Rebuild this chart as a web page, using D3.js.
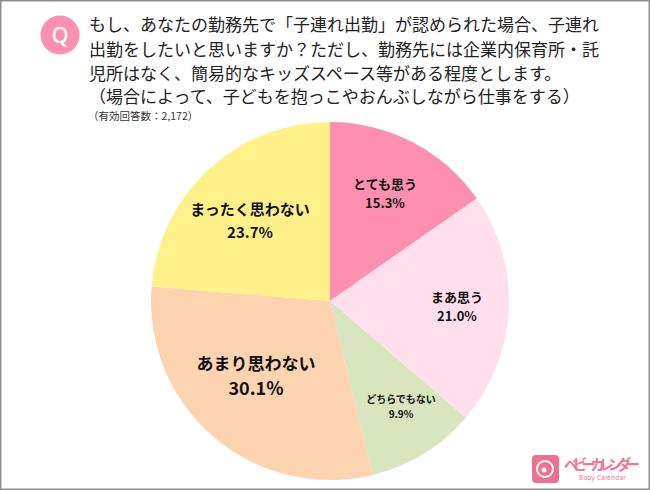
<!DOCTYPE html>
<html><head><meta charset="utf-8">
<script src="https://cdn.jsdelivr.net/npm/d3@7/dist/d3.min.js"></script>
<style>html,body{margin:0;padding:0;background:#fff}svg{display:block}text{font-family:"Noto Sans CJK JP",sans-serif}</style>
</head><body><svg id="c" width="650" height="490"></svg>
<script>
const categories=["とても思う","まあ思う","どちらでもない","あまり思わない","まったく思わない"];
const values=[15.3,21.0,9.9,30.1,23.7];
const colors=["#ff8fb1","#ffdfeb","#d9e5bf","#fdd3b0","#fff18a"];
const questionLines=["もし、あなたの勤務先で「子連れ出勤」が認められた場合、子連れ","出勤をしたいと思いますか？ただし、勤務先には企業内保育所・託","児所はなく、簡易的なキッズスペース等がある程度とします。","（場合によって、子どもを抱っこやおんぶしながら仕事をする）"];
const note="（有効回答数：2,172）";
const svg=d3.select("#c");
svg.append("rect").attr("x",0.5).attr("y",0.5).attr("width",649).attr("height",489).attr("fill","#fff").attr("stroke","#8f8f8f").attr("stroke-width",2);
svg.append("circle").attr("cx",60).attr("cy",35).attr("r",19.5).attr("fill","#ff8fb1");
svg.append("text").attr("x",60).attr("y",43).attr("text-anchor","middle").attr("fill","#fff").attr("font-size",22).attr("font-weight",500).style("font-family","'Noto Sans',sans-serif").text("Q");
svg.selectAll("text.q").data(questionLines).join("text").attr("class","q")
 .attr("x",89).attr("y",(d,i)=>[31,55.5,79.5,103][i]).attr("font-size",17).attr("fill","#222").text(d=>d);
svg.append("text").attr("x",88).attr("y",120).attr("font-size",10.5).attr("fill","#333").text(note);
const cx=330,cy=301,R=179;
const pie=d3.pie().sort(null).value(d=>d);
const arc=d3.arc().innerRadius(0).outerRadius(R);
const g=svg.append("g").attr("transform",`translate(${cx},${cy})`);
g.selectAll("path").data(pie(values)).join("path").attr("d",arc).attr("fill",(d,i)=>colors[i]);
const labelPos=[[55,-112],[127,1],[71,102],[-74,69],[-80,-86]];
const sizes=[13,13,10,17,15],gaps=[19,19,15,25,23];
const pctSizes=[13,13,10,18,15];
const lab=svg.append("g").attr("transform",`translate(${cx},${cy})`);
categories.forEach((c,i)=>{
 const [x,y]=labelPos[i];
 lab.append("text").attr("x",x).attr("y",y).attr("text-anchor","middle").attr("font-size",sizes[i]).attr("font-weight",700).attr("fill","#111").text(c);
 lab.append("text").attr("x",x).attr("y",y+gaps[i]).attr("text-anchor","middle").attr("font-size",pctSizes[i]).attr("font-weight",700).attr("fill","#111").text(values[i].toFixed(1)+"%");
});
const logo=svg.append("g");
logo.append("rect").attr("x",532).attr("y",455).attr("width",27).attr("height",28).attr("rx",4).attr("fill","#f0708f");
logo.append("circle").attr("cx",545).attr("cy",469).attr("r",8).attr("fill","none").attr("stroke","#fff").attr("stroke-width",2);
logo.append("circle").attr("cx",544).attr("cy",470).attr("r",2.5).attr("fill","#fff");
logo.append("text").attr("x",564).attr("y",470).attr("font-size",14.5).attr("font-weight",700).attr("fill","#ee7795").attr("textLength",76).text("ベビーカレンダー");
logo.append("text").attr("x",579).attr("y",480).attr("font-size",6.5).attr("fill","#ee7795").attr("textLength",47).style("font-family","'Noto Sans',sans-serif").text("Baby Calendar");
</script></body></html>
